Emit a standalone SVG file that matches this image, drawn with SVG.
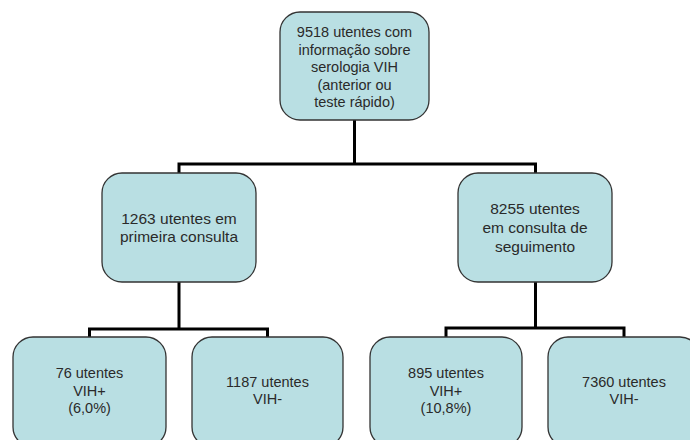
<svg xmlns="http://www.w3.org/2000/svg" width="690" height="440" viewBox="0 0 690 440">
<style>
.box{fill:#b9dfe3;stroke:#333;stroke-width:1.3}
.t{font-family:"Liberation Sans",Arial,sans-serif;font-size:14.5px;fill:#2a2a2a;text-anchor:middle}
.m{font-size:15.5px}
.c{fill:none;stroke:#000;stroke-width:3}
</style>
<rect width="690" height="440" fill="#fff"/>
<g id="connectors">
<path class="c" d="M354.5 120 V164 M179 164 H535.5 M179 162.5 V173 M535.5 162.5 V173"/>
<path class="c" d="M179 282 V329 M89.5 329 H267.5 M89.5 327.5 V337 M267.5 327.5 V337"/>
<path class="c" d="M535.5 282 V328 M446 328 H624 M446 326.5 V337 M624 326.5 V337"/>
</g>
<g id="n0"><rect class="box" x="280" y="12" width="149" height="108" rx="20"/>
<text class="t" x="354.5" y="37">9518 utentes com</text>
<text class="t" x="354.5" y="54.5">informação sobre</text>
<text class="t" x="354.5" y="72">serologia VIH</text>
<text class="t" x="354.5" y="89.5">(anterior ou</text>
<text class="t" x="354.5" y="107">teste rápido)</text></g>
<g id="n1"><rect class="box" x="102" y="173" width="154" height="109" rx="20"/>
<text class="t m" x="179" y="224">1263 utentes em</text>
<text class="t m" x="179" y="242">primeira consulta</text></g>
<g id="n2"><rect class="box" x="458" y="173" width="154" height="109" rx="20"/>
<text class="t m" x="535" y="214">8255 utentes</text>
<text class="t m" x="535" y="233">em consulta de</text>
<text class="t m" x="535" y="252">seguimento</text></g>
<g id="n3"><rect class="box" x="13" y="337" width="153" height="110" rx="20"/>
<text class="t" x="89.5" y="378">76 utentes</text>
<text class="t" x="89.5" y="396">VIH+</text>
<text class="t" x="89.5" y="413">(6,0%)</text></g>
<g id="n4"><rect class="box" x="192" y="337" width="151" height="110" rx="20"/>
<text class="t" x="267.5" y="387">1187 utentes</text>
<text class="t" x="267.5" y="404">VIH-</text></g>
<g id="n5"><rect class="box" x="370" y="337" width="152" height="110" rx="20"/>
<text class="t" x="446" y="378">895 utentes</text>
<text class="t" x="446" y="396">VIH+</text>
<text class="t" x="446" y="413">(10,8%)</text></g>
<g id="n6"><rect class="box" x="548" y="337" width="152" height="110" rx="20"/>
<text class="t" x="624" y="387">7360 utentes</text>
<text class="t" x="624" y="404">VIH-</text></g>
</svg>
